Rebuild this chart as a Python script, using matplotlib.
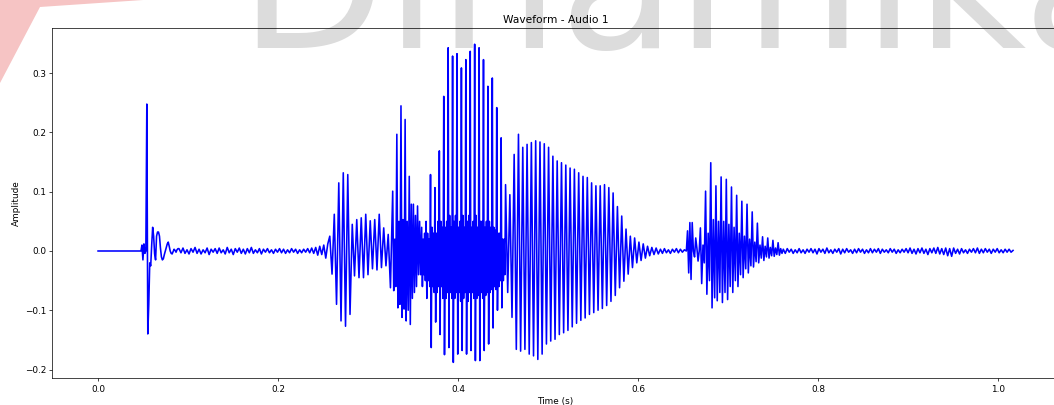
import matplotlib.pyplot as plt
import numpy as np
from matplotlib.patches import Polygon

# segment boundaries in seconds
t_click = 0.0477
t_noise1 = 0.0899
t_v1a = 0.2575
t_v1b = 0.3274
t_v1c = 0.3596
t_v1d = 0.4528
t_noise2 = 0.6249
t_v2a = 0.6537
t_v2b = 0.6693
t_noise3 = 0.7614
t_end = 1.0167

silence = [0.0, 0.0]

click = [0.0, 0.010, -0.015, 0.012, -0.004, 0.0, 0.248, -0.14, -0.09, -0.02,
         -0.025, 0.01, 0.040, 0.025, -0.005, -0.015, 0.025, 0.032, 0.032, 0.025,
         0.005, -0.010, -0.015, -0.013, -0.006, 0.0, 0.006, 0.012, 0.015, 0.008,
         0.0, -0.004, -0.005, -0.001, 0.003, 0.001, -0.002, 0.002, 0.004]

noise1 = [0.004, -0.003, 0.005, -0.004, 0.002, -0.005, 0.004, -0.002, 0.006, -0.004,
          0.003, -0.005, 0.002, -0.003, 0.005, -0.006, 0.003, -0.002, 0.004, -0.004,
          0.005, -0.003, 0.002, -0.005, 0.006, -0.003, 0.003, -0.006, 0.004, -0.002,
          0.005, -0.004, 0.003, -0.005, 0.004, -0.003, 0.006, -0.004, 0.002, -0.003,
          0.004, -0.005, 0.003, -0.002, 0.004, -0.003, 0.002, -0.004, 0.003, -0.002,
          0.004, -0.003, 0.003, -0.004, 0.002, -0.003, 0.004, -0.002, 0.003, -0.004,
          0.002, -0.003, 0.003, -0.002, 0.004, -0.003, 0.005, -0.004, 0.006, -0.007,
          0.008, -0.006, 0.010, -0.012, 0.012]

# first voiced burst: peak / trough per pitch cycle
v1a_peaks = [0.025, 0.062, 0.115, 0.132, 0.129, 0.045, 0.053, 0.056, 0.062, 0.051,
             0.053, 0.062, 0.039, 0.028]
v1a_troughs = [-0.039, -0.09, -0.118, -0.127, -0.107, -0.042, -0.045, -0.045, -0.04, -0.03,
               -0.032, -0.028, -0.025, -0.062]

v1b_peaks = [0.101, 0.197, 0.245, 0.222, 0.126, 0.079, 0.076]
v1b_troughs = [-0.067, -0.096, -0.112, -0.118, -0.124, -0.07, -0.04]
v1b_mid_hi = [0.02, 0.05, 0.053, 0.05, 0.079, 0.06, 0.05]
v1b_mid_lo = [-0.06, -0.09, -0.098, -0.1, -0.08, -0.06, -0.04]

v1c_peaks = [0.04, 0.05, 0.129, 0.107, 0.169, 0.261, 0.343, 0.329, 0.333, 0.309,
             0.323, 0.337, 0.349, 0.343, 0.323, 0.278, 0.292, 0.242, 0.191]
v1c_troughs = [-0.06, -0.08, -0.163, -0.12, -0.141, -0.175, -0.163, -0.188, -0.174, -0.168,
               -0.174, -0.168, -0.185, -0.185, -0.168, -0.157, -0.13, -0.1, -0.096]
v1c_buzz = [[0.02, -0.04, 0.03, -0.05], [0.03, -0.05, 0.02, -0.06], [0.04, -0.06, 0.03, -0.07],
            [0.03, -0.07, 0.05, -0.06], [0.05, -0.06, 0.04, -0.08], [0.04, -0.08, 0.05, -0.07],
            [0.06, -0.07, 0.04, -0.08], [0.05, -0.08, 0.06, -0.07], [0.04, -0.07, 0.05, -0.085],
            [0.06, -0.08, 0.04, -0.07], [0.05, -0.085, 0.06, -0.07], [0.04, -0.07, 0.05, -0.08],
            [0.06, -0.08, 0.04, -0.075], [0.05, -0.07, 0.05, -0.08], [0.04, -0.075, 0.05, -0.07],
            [0.05, -0.07, 0.04, -0.065], [0.04, -0.06, 0.035, -0.065], [0.03, -0.06, 0.03, -0.05],
            [0.02, -0.05, 0.02, -0.04]]

v1d_peaks = [0.112, 0.095, 0.163, 0.197, 0.175, 0.18, 0.183, 0.186, 0.184, 0.181,
             0.175, 0.16, 0.152, 0.149, 0.145, 0.14, 0.138, 0.132, 0.126, 0.124,
             0.115, 0.11, 0.11, 0.112, 0.107, 0.098, 0.075, 0.059, 0.037, 0.025,
             0.022, 0.015, 0.012, 0.008, 0.006, 0.005]
v1d_troughs = [-0.07, -0.112, -0.166, -0.169, -0.166, -0.174, -0.177, -0.183, -0.174, -0.157,
               -0.152, -0.149, -0.141, -0.138, -0.134, -0.128, -0.122, -0.117, -0.113, -0.107,
               -0.104, -0.1, -0.097, -0.092, -0.085, -0.075, -0.062, -0.051, -0.039, -0.028,
               -0.02, -0.016, -0.012, -0.008, -0.006, -0.005]

noise2 = [0.003, -0.004, 0.004, -0.003, 0.002, -0.004, 0.003, -0.002, 0.004, -0.003,
          0.003, -0.002, 0.002]

# second voiced burst
v2a = [0.0, 0.034, -0.037, 0.048, -0.048, 0.048, 0.0, -0.01, 0.022, 0.005, -0.017, 0.0]
v2b_peaks = [0.039, 0.101, 0.149, 0.11, 0.125, 0.121, 0.108, 0.094, 0.084, 0.079,
             0.066, 0.047, 0.024, 0.022, 0.018, 0.014]
v2b_troughs = [-0.055, -0.073, -0.096, -0.084, -0.087, -0.082, -0.07, -0.06, -0.045, -0.037,
               -0.027, -0.02, -0.016, -0.012, -0.009, -0.007]
v2b_mid_hi = [0.01, 0.03, 0.053, 0.05, 0.05, 0.045, 0.04, 0.03, 0.025, 0.02,
              0.015, 0.01, 0.008, 0.006, 0.005, 0.004]
v2b_mid_lo = [-0.02, -0.05, -0.079, -0.07, -0.07, -0.06, -0.05, -0.04, -0.03, -0.025,
              -0.018, -0.012, -0.01, -0.008, -0.006, -0.004]

noise3 = [0.003, -0.004, 0.004, -0.002, 0.003, -0.004, 0.002, -0.003, 0.004, -0.003,
          0.002, -0.004, 0.003, -0.002, 0.004, -0.003, 0.003, -0.005, 0.004, -0.002,
          0.003, -0.004, 0.005, -0.003, 0.002, -0.004, 0.003, -0.002, 0.004, -0.005,
          0.003, -0.003, 0.004, -0.002, 0.002, -0.004, 0.003, -0.003, 0.004, -0.002,
          0.003, -0.004, 0.002, -0.003, 0.004, -0.003, 0.003, -0.002, 0.004, -0.004,
          0.003, -0.002, 0.002, -0.003, 0.004, -0.002, 0.003, -0.004, 0.002, -0.003,
          0.003, -0.002, 0.004, -0.003, 0.005, -0.004, 0.003, -0.005, 0.004, -0.003,
          0.005, -0.004, 0.003, -0.006, 0.004, -0.003, 0.005, -0.004, 0.006, -0.005,
          0.004, -0.006, 0.005, -0.008, 0.004, -0.009, 0.005, -0.004, 0.003, -0.005,
          0.004, -0.003, 0.002, -0.004, 0.003, -0.002, 0.004, -0.003, 0.005, -0.004,
          0.003, -0.003, 0.004, -0.002, 0.003, -0.004, 0.003, -0.002, 0.004, -0.003,
          0.002, -0.003, 0.003, -0.002, 0.003, -0.002, 0.001]


def seg(t0, t1, vals, last=False):
    n = len(vals)
    ts = np.linspace(t0, t1, n) if last else np.linspace(t0, t1, n + 1)[:-1]
    return ts, np.asarray(vals, dtype=float)


def cycles(*cols):
    return np.column_stack(cols).ravel()


parts = [
    seg(0.0, t_click, silence),
    seg(t_click, t_noise1, click),
    seg(t_noise1, t_v1a, noise1),
    seg(t_v1a, t_v1b, cycles(v1a_peaks, v1a_troughs)),
    seg(t_v1b, t_v1c, cycles(v1b_peaks, v1b_troughs, v1b_mid_hi, v1b_mid_lo)),
    seg(t_v1c, t_v1d, cycles(v1c_peaks, v1c_troughs, np.array(v1c_buzz))),
    seg(t_v1d, t_noise2, cycles(v1d_peaks, v1d_troughs)),
    seg(t_noise2, t_v2a, noise2),
    seg(t_v2a, t_v2b, v2a),
    seg(t_v2b, t_noise3, cycles(v2b_peaks, v2b_troughs, v2b_mid_hi, v2b_mid_lo)),
    seg(t_noise3, t_end, noise3, last=True),
]
time = np.concatenate([p[0] for p in parts])
amp = np.concatenate([p[1] for p in parts])

fig = plt.figure(figsize=(1054 / 64, 405 / 64), dpi=64)

# faint watermark behind the plot
fig.text(238 / 1054, 1 - 48 / 405, 'Dinamika', fontsize=215, fontweight='normal',
         color='#dcdcdc', ha='left', va='baseline', zorder=0)
fig.patches.append(Polygon([(0, 1), (143 / 1054, 1), (40 / 1054, 1 - 7 / 405), (0, 1 - 83 / 405)],
                           closed=True, transform=fig.transFigure, facecolor='#f6c4c4',
                           edgecolor='none', zorder=0))

ax = fig.add_axes([52.3 / 1054, 1 - 378.3 / 405, 1006.5 / 1054, 350 / 405], zorder=1)
ax.set_facecolor('none')
ax.plot(time, amp, color='blue', linewidth=1.8)
ax.set_title('Waveform - Audio 1')
ax.set_xlabel('Time (s)')
ax.set_ylabel('Amplitude')

fig.savefig('out.png', dpi=64)
